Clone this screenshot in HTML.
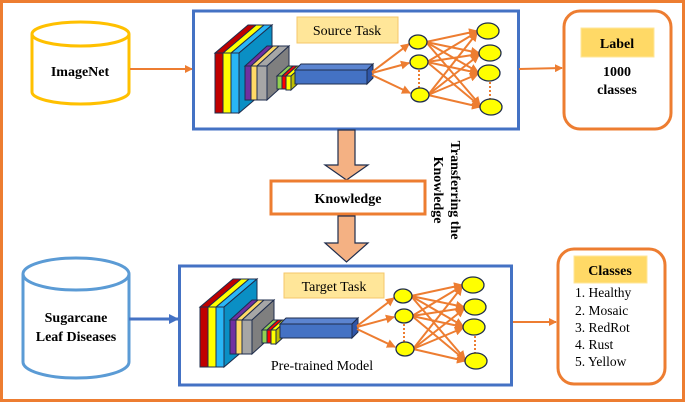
<!DOCTYPE html>
<html><head><meta charset="utf-8"><style>
body{margin:0;background:#fff}
svg{display:block}
text{font-family:"Liberation Serif",serif}
</style></head><body>
<svg width="685" height="402" viewBox="0 0 685 402" xmlns="http://www.w3.org/2000/svg">
<defs>
<marker id="ao" markerWidth="8" markerHeight="8" refX="7" refY="4" orient="auto" markerUnits="userSpaceOnUse"><path d="M0,0 L8,4 L0,8 z" fill="#ed7d31"/></marker>
<marker id="ab" markerWidth="10" markerHeight="10" refX="9" refY="5" orient="auto" markerUnits="userSpaceOnUse"><path d="M0,0 L10,5 L0,10 z" fill="#4472c4"/></marker>
<marker id="an" markerWidth="9" markerHeight="9" refX="8" refY="4.5" orient="auto" markerUnits="userSpaceOnUse"><path d="M0,0 L9,4.5 L0,9 z" fill="#ed7d31"/></marker>
<g id="net">
  <!-- stack 1 -->
  <g stroke="#1f2d4d" stroke-width="1">
    <polygon points="231,53 264,25 272,25 239,53" fill="#29b6f6"/>
    <polygon points="239,53 272,25 272,85 239,113" fill="#0a8fc4"/>
    <polygon points="223,53 256,25 264,25 231,53" fill="#ffff00"/>
    <polygon points="215,53 248,25 256,25 223,53" fill="#c00000"/>
    <rect x="215" y="53" width="8" height="60" fill="#c00000"/>
    <rect x="223" y="53" width="8" height="60" fill="#ffff00"/>
    <rect x="231" y="53" width="8" height="60" fill="#29b6f6"/>
    <!-- stack 2 -->
    <polygon points="245,66 267,46 273,46 251,66" fill="#7030a0"/>
    <polygon points="251,66 273,46 279,46 257,66" fill="#ffd966"/>
    <polygon points="257,66 279,46 289,46 267,66" fill="#a6a6a6"/>
    <polygon points="267,66 289,46 289,80 267,100" fill="#7f7f7f"/>
    <rect x="245" y="66" width="6" height="34" fill="#7030a0"/>
    <rect x="251" y="66" width="6" height="34" fill="#ffd966"/>
    <rect x="257" y="66" width="10" height="34" fill="#a6a6a6"/>
    <!-- stack 3 -->
    <polygon points="277,76 288,66 293,66 282,76" fill="#92d050"/>
    <polygon points="282,76 293,66 297,66 286,76" fill="#ff0000"/>
    <polygon points="286,76 297,66 302,66 291,76" fill="#ffff00"/>
    <polygon points="291,76 302,66 302,80 291,90" fill="#bfbf00"/>
    <rect x="277" y="76" width="5" height="13" fill="#92d050"/>
    <rect x="282" y="76" width="4" height="13" fill="#ff0000"/>
    <rect x="286" y="76" width="5" height="14" fill="#ffff00"/>
    <!-- bar -->
    <polygon points="295,70 301,64 373,64 367,70" fill="#5b84d0"/>
    <polygon points="367,70 373,64 373,78 367,84" fill="#2f56a8"/>
    <rect x="295" y="70" width="72" height="14" fill="#4472c4"/>
  </g>
  <!-- connections -->
  <g stroke="#ed7d31" stroke-width="2" fill="none">
    <line x1="372" y1="72" x2="409" y2="44" marker-end="url(#an)"/>
    <line x1="372" y1="73" x2="409" y2="63" marker-end="url(#an)"/>
    <line x1="372" y1="75" x2="410" y2="93" marker-end="url(#an)"/>
    <g marker-end="url(#an)">
      <line x1="426" y1="42" x2="477" y2="31"/><line x1="426" y1="42" x2="479" y2="53"/><line x1="426" y1="42" x2="478" y2="72"/><line x1="426" y1="42" x2="480" y2="105"/>
      <line x1="427" y1="62" x2="477" y2="32"/><line x1="427" y1="62" x2="479" y2="54"/><line x1="427" y1="62" x2="478" y2="73"/><line x1="427" y1="62" x2="480" y2="106"/>
      <line x1="428" y1="95" x2="477" y2="33"/><line x1="428" y1="95" x2="479" y2="55"/><line x1="428" y1="95" x2="478" y2="74"/><line x1="428" y1="95" x2="480" y2="107"/>
    </g>
  </g>
  <g stroke="#ed7d31" stroke-width="2" stroke-dasharray="2,2">
    <line x1="419" y1="70" x2="419" y2="88"/>
    <line x1="490" y1="82" x2="490" y2="99"/>
  </g>
  <g fill="#ffff00" stroke="#1f2d4d" stroke-width="1.3">
    <ellipse cx="418" cy="42" rx="9" ry="7"/><ellipse cx="419" cy="62" rx="9" ry="7"/><ellipse cx="420" cy="95" rx="9" ry="7"/>
    <ellipse cx="488" cy="31" rx="11" ry="8"/><ellipse cx="490" cy="53" rx="11" ry="8"/><ellipse cx="489" cy="73" rx="11" ry="8"/><ellipse cx="491" cy="107" rx="11" ry="8"/>
  </g>
</g>
</defs>
<rect x="1.5" y="1.5" width="682" height="399" fill="#fff" stroke="#ed7d31" stroke-width="3"/>

<!-- ImageNet cylinder -->
<path d="M32,34 L32,92 A48.5,12 0 0 0 129,92 L129,34" fill="#fff" stroke="#ffc000" stroke-width="3"/>
<ellipse cx="80.5" cy="34" rx="48.5" ry="12" fill="#fff" stroke="#ffc000" stroke-width="3"/>
<text x="80" y="76" font-size="14" font-weight="bold" text-anchor="middle">ImageNet</text>
<line x1="130" y1="69" x2="192" y2="69" stroke="#ed7d31" stroke-width="2" marker-end="url(#ao)"/>

<!-- Sugarcane cylinder -->
<path d="M23,274 L23,362 A53,16 0 0 0 129,362 L129,274" fill="#fff" stroke="#5b9bd5" stroke-width="3"/>
<ellipse cx="76" cy="274" rx="53" ry="16" fill="#fff" stroke="#5b9bd5" stroke-width="3"/>
<text x="76" y="322" font-size="14" font-weight="bold" text-anchor="middle">Sugarcane</text>
<text x="76" y="341" font-size="14" font-weight="bold" text-anchor="middle">Leaf Diseases</text>
<line x1="129" y1="319" x2="178" y2="319" stroke="#4472c4" stroke-width="3" marker-end="url(#ab)"/>

<!-- Top box -->
<rect x="193.5" y="11" width="325" height="118" fill="#fff" stroke="#4472c4" stroke-width="3"/>
<rect x="297" y="17" width="101" height="26" fill="#ffe699" stroke="#f4c76a"/>
<text x="347" y="35" font-size="14" text-anchor="middle">Source Task</text>
<use href="#net"/>
<line x1="519" y1="69" x2="562" y2="68" stroke="#ed7d31" stroke-width="2" marker-end="url(#ao)"/>

<!-- Bottom box -->
<rect x="179.5" y="266" width="332" height="119" fill="#fff" stroke="#4472c4" stroke-width="3"/>
<rect x="284" y="273" width="100" height="25" fill="#ffe699" stroke="#f4c76a"/>
<text x="334" y="291" font-size="14" text-anchor="middle">Target Task</text>
<g transform="translate(-15,254)"><use href="#net"/></g>
<text x="322" y="370" font-size="14" text-anchor="middle">Pre-trained Model</text>
<line x1="513" y1="322" x2="556" y2="322" stroke="#ed7d31" stroke-width="2" marker-end="url(#ao)"/>

<!-- Knowledge arrows -->
<polygon points="338,130 355,130 355,165 368,165 346.5,180 325,165 338,165" fill="#f4b183" stroke="#1f2d4d" stroke-width="1.2"/>
<rect x="271" y="181" width="154" height="33" fill="#fff" stroke="#ed7d31" stroke-width="3"/>
<text x="348" y="203" font-size="14" font-weight="bold" text-anchor="middle">Knowledge</text>
<polygon points="338,216 355,216 355,243 368,243 346.5,262 325,243 338,243" fill="#f4b183" stroke="#1f2d4d" stroke-width="1.2"/>
<g transform="translate(451,190) rotate(90)">
<text x="0" y="0" font-size="14" font-weight="bold" text-anchor="middle">Transferring the</text>
<text x="0" y="17" font-size="14" font-weight="bold" text-anchor="middle">Knowledge</text>
</g>

<!-- Label box -->
<rect x="564" y="11" width="107" height="118" rx="16" fill="#fff" stroke="#ed7d31" stroke-width="3"/>
<rect x="581" y="28" width="73" height="29" fill="#ffd966" stroke="#ffe699"/>
<text x="617" y="48" font-size="14" font-weight="bold" text-anchor="middle">Label</text>
<text x="617" y="76" font-size="14" font-weight="bold" text-anchor="middle">1000</text>
<text x="617" y="94" font-size="14" font-weight="bold" text-anchor="middle">classes</text>

<!-- Classes box -->
<rect x="558" y="249" width="107" height="135" rx="16" fill="#fff" stroke="#ed7d31" stroke-width="3"/>
<rect x="574" y="256" width="73" height="27" fill="#ffd966" stroke="#ffe699"/>
<text x="610" y="275" font-size="14" font-weight="bold" text-anchor="middle">Classes</text>
<g font-size="13.5">
<text x="575" y="297">1. Healthy</text>
<text x="575" y="315">2. Mosaic</text>
<text x="575" y="332">3. RedRot</text>
<text x="575" y="349">4. Rust</text>
<text x="575" y="366">5. Yellow</text>
</g>
</svg>
</body></html>
